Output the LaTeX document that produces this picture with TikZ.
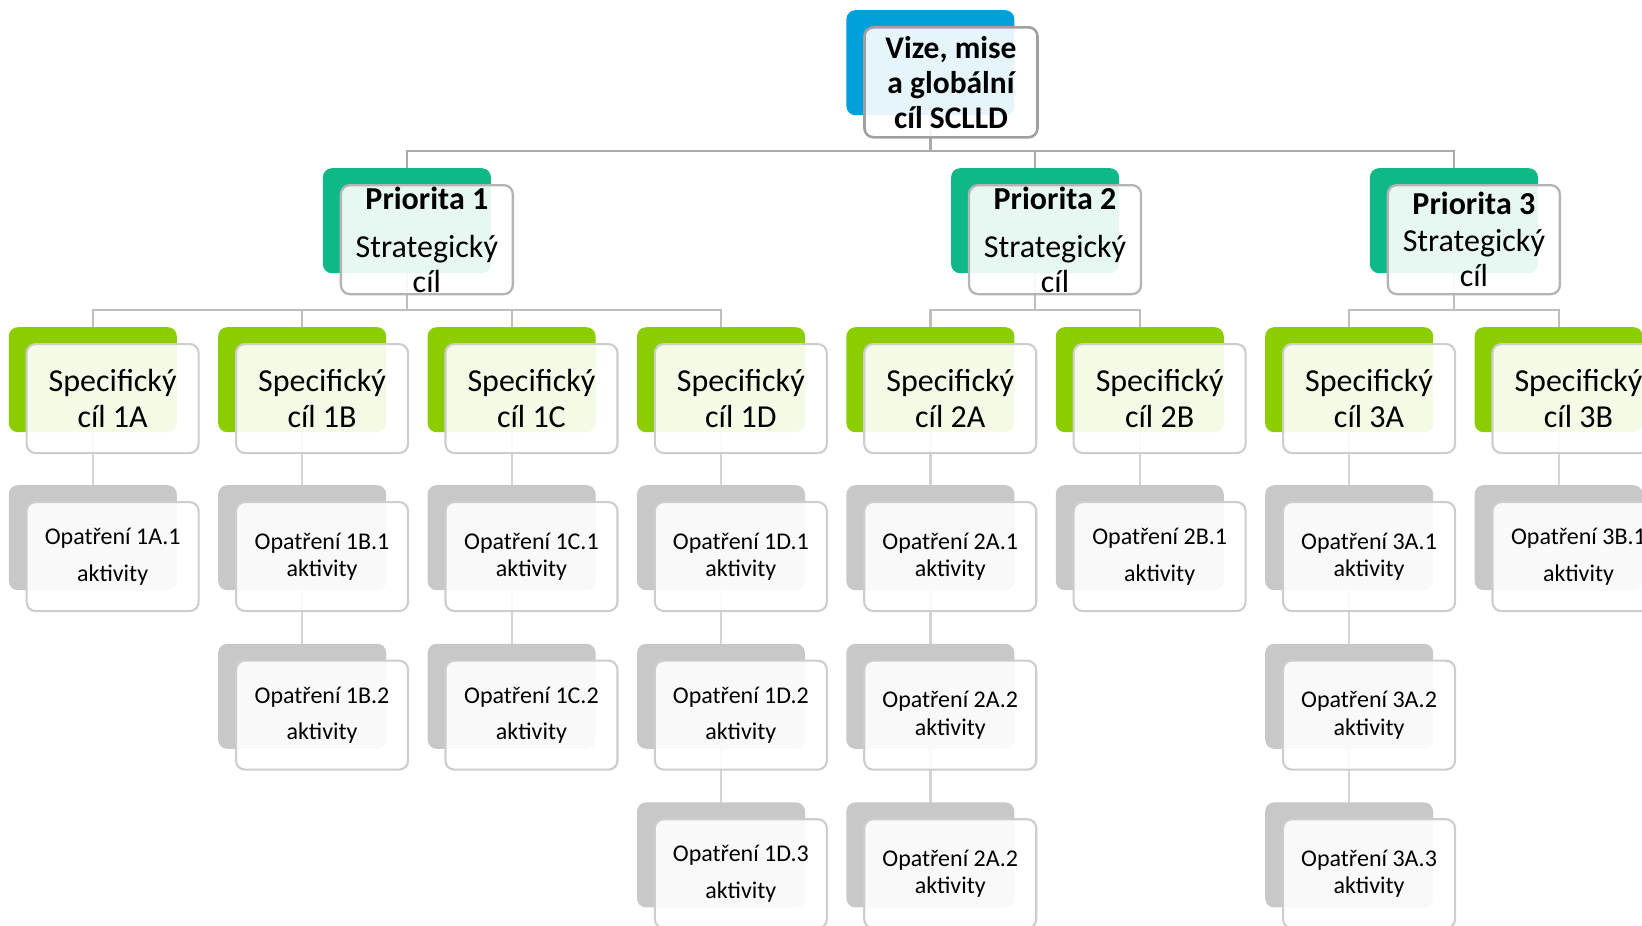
\documentclass[tikz,border=0pt]{standalone}
\usepackage{fontspec}
\setmainfont{Carlito}
\usetikzlibrary{backgrounds}
\definecolor{cblue}{RGB}{0,160,220}
\definecolor{cteal}{RGB}{15,185,135}
\definecolor{clime}{RGB}{140,205,0}
\definecolor{cgrey}{RGB}{200,200,200}
\definecolor{bordA}{RGB}{160,160,160}
\definecolor{bordB}{RGB}{180,180,180}
\definecolor{bordC}{RGB}{205,205,205}
\definecolor{lineA}{RGB}{170,170,170}
\definecolor{lineB}{RGB}{190,190,190}
\definecolor{lineC}{RGB}{212,212,212}
\tikzset{
  x=1pt, y=-1pt,
  back/.style={rectangle, rounded corners=9pt, minimum width=168pt, minimum height=105pt, inner sep=0pt, draw=none},
  frontbox/.style={rectangle, rounded corners=9pt, minimum width=172pt, minimum height=109pt, inner sep=0pt, fill=white, fill opacity=0.9},
  frontA/.style={frontbox, draw=bordA, line width=2.6pt, minimum width=173pt, minimum height=110pt},
  frontB/.style={frontbox, draw=bordB, line width=2.3pt},
  frontC/.style={frontbox, draw=bordC, line width=2.1pt},
  conA/.style={draw=lineA, line width=2.6pt},
  conB/.style={draw=lineB, line width=2.2pt},
  conC/.style={draw=lineC, line width=2.2pt},
  ttop/.style={align=center, inner sep=0pt, font=\fontsize{31.5}{35}\selectfont\bfseries},
  tpri/.style={align=center, inner sep=0pt, font=\fontsize{32}{35}\selectfont},
  tspec/.style={align=center, inner sep=0pt, font=\fontsize{32}{36}\selectfont},
  topt/.style={align=center, inner sep=0pt, font=\fontsize{24}{27.2}\selectfont}
}
\newcommand{\mkitem}[5]{%
  \node[back, fill=#4, anchor=north west] (#1-b) at (#2,#3) {};
  \node[#5, anchor=north west] (#1) at ([shift={(17,16)}]#1-b.north west) {};
}
\newcommand{\owide}[2]{\node[topt] (#1-t) at (#1.center) {Opatření #2\\[9.5pt]aktivity};}
\newcommand{\otight}[2]{\node[topt] (#1-t) at (#1.center) {Opatření #2\\aktivity};}
\begin{document}
\begin{tikzpicture}
\useasboundingbox (0,0) rectangle (1642,926);
\clip (0,0) rectangle (1642,926);
\coordinate (bus1) at (0,151);
\coordinate (bus2) at (0,310);
% level 0
\mkitem{top}{846.2}{10}{cblue}{frontA}
% level 1
\mkitem{p1}{322.7}{168}{cteal}{frontB}
\mkitem{p2}{950.9}{168}{cteal}{frontB}
\mkitem{p3}{1369.7}{168}{cteal}{frontB}
% level 2
\mkitem{s1A}{8.6}{327}{clime}{frontC}
\mkitem{s1B}{218}{327}{clime}{frontC}
\mkitem{s1C}{427.4}{327}{clime}{frontC}
\mkitem{s1D}{636.8}{327}{clime}{frontC}
\mkitem{s2A}{846.2}{327}{clime}{frontC}
\mkitem{s2B}{1055.6}{327}{clime}{frontC}
\mkitem{s3A}{1265}{327}{clime}{frontC}
\mkitem{s3B}{1474.4}{327}{clime}{frontC}
% level 3
\mkitem{o1A1}{8.6}{485}{cgrey}{frontC}
\mkitem{o1B1}{218}{485}{cgrey}{frontC}
\mkitem{o1B2}{218}{643.6}{cgrey}{frontC}
\mkitem{o1C1}{427.4}{485}{cgrey}{frontC}
\mkitem{o1C2}{427.4}{643.6}{cgrey}{frontC}
\mkitem{o1D1}{636.8}{485}{cgrey}{frontC}
\mkitem{o1D2}{636.8}{643.6}{cgrey}{frontC}
\mkitem{o1D3}{636.8}{802.2}{cgrey}{frontC}
\mkitem{o2A1}{846.2}{485}{cgrey}{frontC}
\mkitem{o2A2}{846.2}{643.6}{cgrey}{frontC}
\mkitem{o2A3}{846.2}{802.2}{cgrey}{frontC}
\mkitem{o2B1}{1055.6}{485}{cgrey}{frontC}
\mkitem{o3A1}{1265}{485}{cgrey}{frontC}
\mkitem{o3A2}{1265}{643.6}{cgrey}{frontC}
\mkitem{o3A3}{1265}{802.2}{cgrey}{frontC}
\mkitem{o3B1}{1474.4}{485}{cgrey}{frontC}
% texts
\node[ttop] (top-t) at (top.center) {Vize, mise\\a globální\\cíl SCLLD};
\node[tpri] (p1-t) at (p1.center) {\textbf{Priorita 1}\\[13pt]Strategický\\cíl};
\node[tpri] (p2-t) at (p2.center) {\textbf{Priorita 2}\\[13pt]Strategický\\cíl};
\node[tpri] (p3-t) at (p3.center) {\textbf{Priorita 3}\\[2pt]Strategický\\cíl};
\node[tspec] (s1A-t) at (s1A.center) {Specifický\\cíl 1A};
\node[tspec] (s1B-t) at (s1B.center) {Specifický\\cíl 1B};
\node[tspec] (s1C-t) at (s1C.center) {Specifický\\cíl 1C};
\node[tspec] (s1D-t) at (s1D.center) {Specifický\\cíl 1D};
\node[tspec] (s2A-t) at (s2A.center) {Specifický\\cíl 2A};
\node[tspec] (s2B-t) at (s2B.center) {Specifický\\cíl 2B};
\node[tspec] (s3A-t) at (s3A.center) {Specifický\\cíl 3A};
\node[tspec] (s3B-t) at (s3B.center) {Specifický\\cíl 3B};
\owide{o1A1}{1A.1}
\otight{o1B1}{1B.1}
\owide{o1B2}{1B.2}
\otight{o1C1}{1C.1}
\owide{o1C2}{1C.2}
\otight{o1D1}{1D.1}
\owide{o1D2}{1D.2}
\owide{o1D3}{1D.3}
\otight{o2A1}{2A.1}
\otight{o2A2}{2A.2}
\otight{o2A3}{2A.2}
\owide{o2B1}{2B.1}
\otight{o3A1}{3A.1}
\otight{o3A2}{3A.2}
\otight{o3A3}{3A.3}
\owide{o3B1}{3B.1}
% connectors
\begin{scope}[on background layer]
  \draw[conA] (top-b.center) -- (top-b.center |- bus1) -| (p1-b.center);
  \draw[conA] (top-b.center |- bus1) -| (p2-b.center);
  \draw[conA] (top-b.center |- bus1) -| (p3-b.center);
  \draw[conB] (p1-b.center) -- (p1-b.center |- bus2) -| (s1A-b.center);
  \draw[conB] (p1-b.center |- bus2) -| (s1B-b.center);
  \draw[conB] (p1-b.center |- bus2) -| (s1C-b.center);
  \draw[conB] (p1-b.center |- bus2) -| (s1D-b.center);
  \draw[conB] (p2-b.center) -- (p2-b.center |- bus2) -| (s2A-b.center);
  \draw[conB] (p2-b.center |- bus2) -| (s2B-b.center);
  \draw[conB] (p3-b.center) -- (p3-b.center |- bus2) -| (s3A-b.center);
  \draw[conB] (p3-b.center |- bus2) -| (s3B-b.center);
  \draw[conC] (s1A-b.center) -- (o1A1-b.center);
  \draw[conC] (s1B-b.center) -- (o1B1-b.center) -- (o1B2-b.center);
  \draw[conC] (s1C-b.center) -- (o1C1-b.center) -- (o1C2-b.center);
  \draw[conC] (s1D-b.center) -- (o1D1-b.center) -- (o1D2-b.center) -- (o1D3-b.center);
  \draw[conC] (s2A-b.center) -- (o2A1-b.center) -- (o2A2-b.center) -- (o2A3-b.center);
  \draw[conC] (s2B-b.center) -- (o2B1-b.center);
  \draw[conC] (s3A-b.center) -- (o3A1-b.center) -- (o3A2-b.center) -- (o3A3-b.center);
  \draw[conC] (s3B-b.center) -- (o3B1-b.center);
\end{scope}
\end{tikzpicture}
\end{document}
